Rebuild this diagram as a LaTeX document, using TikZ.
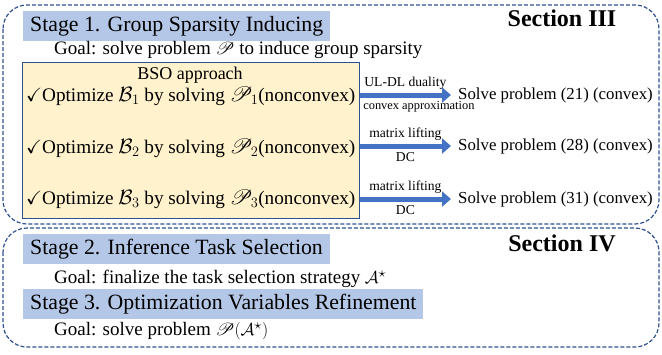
\documentclass[tikz,border=0pt]{standalone}
\usepackage{amssymb}
\usepackage{mathrsfs}
\usepackage{fontspec}
\setmainfont{Liberation Serif}
\usetikzlibrary{arrows.meta, positioning}
\definecolor{framecolor}{RGB}{47,82,143}
\definecolor{stagecolor}{RGB}{180,199,231}
\definecolor{bsocolor}{RGB}{255,242,204}
\definecolor{arrowcolor}{RGB}{68,114,196}

\begin{document}
\begin{tikzpicture}[
    x=1pt, y=-1pt,
    section/.style={draw=framecolor, dash pattern=on 4pt off 2pt, line width=1.2pt, rounded corners=24pt},
    stage/.style={fill=stagecolor, anchor=north west, inner xsep=7pt, inner ysep=0pt, minimum height=30pt, font=\fontsize{21.8}{25}\selectfont},
    goal/.style={anchor=west, inner sep=0pt, font=\fontsize{19}{22}\selectfont},
    sectitle/.style={font=\fontsize{24}{28}\selectfont\bfseries},
    optrow/.style={anchor=west, inner sep=0pt, font=\fontsize{19.2}{23}\selectfont},
    solve/.style={anchor=west, inner xsep=7pt, inner ysep=0pt, font=\fontsize{16.8}{20}\selectfont},
    lbl/.style={text=black, font=\fontsize{13.6}{16}\selectfont, inner sep=1pt},
    arrow/.style={-{Triangle[length=9pt, width=15pt]}, line width=5pt, arrowcolor}
]
    \useasboundingbox (0,0) rectangle (662,354);

    % Section III: group sparsity inducing
    \draw[section] (3,5) rectangle (659,224);
    \node[sectitle] (sec3) at (562,18) {Section III};
    \node[stage] (stage1) at (23,11) {Stage 1. Group Sparsity Inducing};
    \node[goal] (goal1) at (54,50) {Goal: solve problem $\mathscr{P}$ to induce group sparsity};

    \node[draw=framecolor, line width=0.8pt, fill=bsocolor, minimum width=337pt, minimum height=156pt, anchor=north west] (bso) at (22,62) {};
    \node[font=\fontsize{18}{21}\selectfont] (bsotitle) at (190,75) {BSO approach};
    \node[optrow] (opt1) at (26,96) {$\checkmark$Optimize $\mathcal{B}_1$ by solving $\mathscr{P}_1$(nonconvex)};
    \node[optrow] (opt2) at (26,148) {$\checkmark$Optimize $\mathcal{B}_2$ by solving $\mathscr{P}_2$(nonconvex)};
    \node[optrow] (opt3) at (26,199) {$\checkmark$Optimize $\mathcal{B}_3$ by solving $\mathscr{P}_3$(nonconvex)};

    \node[solve] (sol1) at (451,95) {Solve problem (21) (convex)};
    \node[solve] (sol2) at (451,146) {Solve problem (28) (convex)};
    \node[solve] (sol3) at (451,199) {Solve problem (31) (convex)};

    \draw[arrow] (bso.east |- sol1) -- (sol1.west)
        node[lbl, midway, above=2pt] {UL-DL duality}
        node[lbl, pos=0, below right=3pt and 0pt, font=\fontsize{12.4}{14}\selectfont] {convex approximation};
    \draw[arrow] (bso.east |- sol2) -- (sol2.west)
        node[lbl, midway, above=2pt] {matrix lifting}
        node[lbl, midway, below=3pt] {DC};
    \draw[arrow] (bso.east |- sol3) -- (sol3.west)
        node[lbl, midway, above=2pt] {matrix lifting}
        node[lbl, midway, below=3pt] {DC};

    % Section IV: task selection and refinement
    \draw[section] (3,228) rectangle (659,347);
    \node[sectitle] (sec4) at (562,243) {Section IV};
    \node[stage] (stage2) at (23,234) {Stage 2. Inference Task Selection};
    \node[goal] (goal2) at (54,279) {Goal: finalize the task selection strategy $\mathcal{A}^\star$};
    \node[stage] (stage3) at (23,289) {Stage 3. Optimization Variables Refinement};
    \node[goal] (goal3) at (54,331) {Goal: solve problem $\mathscr{P}(\mathcal{A}^\star)$};
\end{tikzpicture}
\end{document}
